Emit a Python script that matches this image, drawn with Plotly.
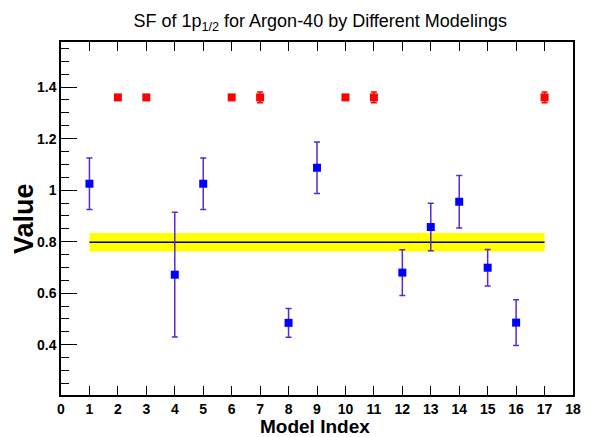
import plotly.graph_objects as go

# Blue model points (index, value, error)
blue_x = [1, 4, 5, 8, 9, 12, 13, 14, 15, 16]
blue_y = [1.025, 0.672, 1.025, 0.485, 1.087, 0.680, 0.857, 0.955, 0.699, 0.486]
blue_err = [0.100, 0.242, 0.100, 0.056, 0.100, 0.089, 0.092, 0.102, 0.071, 0.089]

# Red model points
red_x = [2, 3, 6, 7, 10, 11, 17]
red_y = [1.36, 1.36, 1.36, 1.36, 1.36, 1.36, 1.36]
red_err = [0.0, 0.0, 0.0, 0.021, 0.0, 0.021, 0.021]

# Reference band
band_x0, band_x1 = 1, 17
band_center = 0.798
band_err = 0.036

x_range = [0, 18]
y_range = [0.205, 1.575]
x_ticks = list(range(0, 19))

font = "Liberation Sans, Arial, sans-serif"

fig = go.Figure()

# yellow band
fig.add_trace(go.Scatter(
    x=[band_x0, band_x1, band_x1, band_x0, band_x0],
    y=[band_center - band_err, band_center - band_err,
       band_center + band_err, band_center + band_err, band_center - band_err],
    fill="toself", fillcolor="#ffff00", mode="lines",
    line=dict(width=0, color="#ffff00"), hoverinfo="skip", showlegend=False))
# central line
fig.add_trace(go.Scatter(
    x=[band_x0, band_x1], y=[band_center, band_center], mode="lines",
    line=dict(color="black", width=1.5), showlegend=False))

fig.add_trace(go.Scatter(
    x=blue_x, y=blue_y, mode="markers",
    marker=dict(symbol="square", size=8, color="#0000ff"),
    error_y=dict(type="data", array=blue_err, color="#5a2ad0", thickness=1.5, width=3),
    showlegend=False))

fig.add_trace(go.Scatter(
    x=red_x, y=red_y, mode="markers",
    marker=dict(symbol="square", size=8, color="#ff0000"),
    error_y=dict(type="data", array=red_err, color="#ff0000", thickness=1.5, width=3),
    showlegend=False))

fig.update_layout(
    width=593, height=437,
    margin=dict(l=61, r=13, t=42, b=42),
    paper_bgcolor="white", plot_bgcolor="white",
    font=dict(family=font, color="black"),
    title=dict(text="SF of 1p<sub>1/2</sub> for Argon-40 by Different Modelings",
               x=0.54, xanchor="center", y=0.953, yanchor="middle",
               font=dict(size=18, family=font, color="black")),
    xaxis=dict(range=x_range, tickmode="array", tickvals=x_ticks,
               ticktext=[str(t) for t in x_ticks],
               ticks="inside", ticklen=9, tickcolor="black", tickwidth=1,
               showline=True, linecolor="black", linewidth=1.5, mirror="ticks",
               showgrid=False, zeroline=False,
               tickfont=dict(size=14, weight="bold", family=font)),
    yaxis=dict(range=y_range, tickmode="linear", tick0=0, dtick=0.2,
               ticks="inside", ticklen=16, tickcolor="black", tickwidth=1,
               minor=dict(dtick=0.05, tick0=0, ticks="inside", ticklen=8,
                          tickcolor="black", showgrid=False),
               showline=True, linecolor="black", linewidth=1.5, mirror=True,
               showgrid=False, zeroline=False,
               tickfont=dict(size=14, weight="bold", family=font)),
    annotations=[
        dict(text="Value", xref="paper", yref="paper", x=-0.073, y=0.50,
             xanchor="center", yanchor="middle", textangle=-90, showarrow=False,
             font=dict(size=27, weight="bold", family=font, color="black")),
        dict(text="Model Index", xref="paper", yref="paper", x=0.497, y=-0.088,
             xanchor="center", yanchor="middle", showarrow=False, borderpad=0,
             font=dict(size=19, weight="bold", family=font, color="black")),
    ],
)

fig.write_html("out.html")
